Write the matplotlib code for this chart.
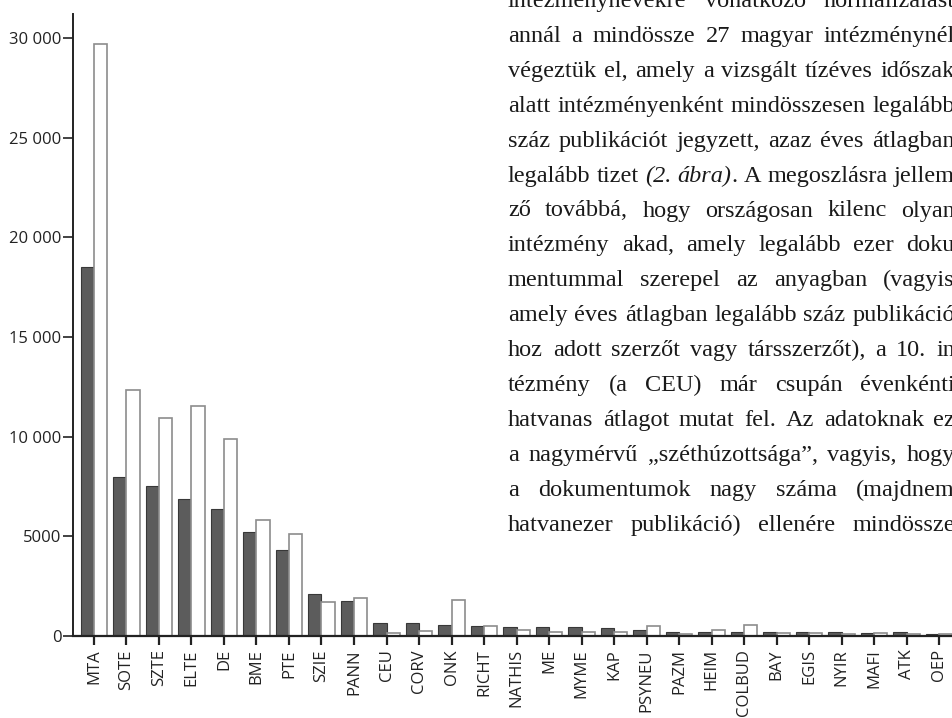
import numpy as np
import matplotlib
matplotlib.use("Agg")
import matplotlib.pyplot as plt

# intézmények rövidítései (x tengely)
intezmenyek = ["MTA", "SOTE", "SZTE", "ELTE", "DE", "BME", "PTE", "SZIE", "PANN",
               "CEU", "CORV", "ONK", "RICHT", "NATHIS", "ME", "MYME", "KAP",
               "PSYNEU", "PAZM", "HEIM", "COLBUD", "BAY", "EGIS", "NYIR",
               "MAFI", "ATK", "OEP"]

# sötét oszlopok
sotet = [18500, 7980, 7550, 6880, 6380, 5220, 4340, 2090, 1760,
         670, 650, 540, 500, 450, 435, 435, 420,
         320, 200, 200, 200, 185, 185, 185,
         170, 185, 115]

# fehér oszlopok
feher = [29700, 12350, 10930, 11530, 9890, 5810, 5140, 1720, 1925,
         165, 235, 1790, 500, 285, 185, 185, 200,
         485, 100, 285, 570, 135, 135, 100,
         135, 100, 80]

y_tickek = [0, 5000, 10000, 15000, 20000, 25000, 30000]
y_feliratok = ["0", "5000", "10 000", "15 000", "20 000", "25 000", "30 000"]

# a jobb felső sarokban levő szöveg sorai (sorkizárt), |...| = dőlt
szoveg_sorok = [
    "intézménynevekre vonatkozó normalizálást",
    "annál a mindössze 27 magyar intézménynél",
    "végeztük el, amely a vizsgált tízéves időszak",
    "alatt intézményenként mindösszesen legalább",
    "száz publikációt jegyzett, azaz éves átlagban",
    "legalább tizet |(2. ábra)|. A megoszlásra jellem",
    "ző továbbá, hogy országosan kilenc olyan",
    "intézmény akad, amely legalább ezer doku",
    "mentummal szerepel az anyagban (vagyis",
    "amely éves átlagban legalább száz publikáció",
    "hoz adott szerzőt vagy társszerzőt), a 10. in",
    "tézmény (a CEU) már csupán évenkénti",
    "hatvanas átlagot mutat fel. Az adatoknak ez",
    "a nagymérvű „széthúzottsága”, vagyis, hogy",
    "a dokumentumok nagy száma (majdnem",
    "hatvanezer publikáció) ellenére mindössze",
]

W, H = 953, 718
fig = plt.figure(figsize=(W / 100, H / 100), dpi=100)
ax = fig.add_axes([72.7 / W, 82 / H, 1 - 72.7 / W, (636 - 14.3) / H])

x = np.arange(len(intezmenyek))
szel = 0.41
ax.bar(x - szel / 2, sotet, width=szel, color="#5c5c5c", edgecolor="#383838", linewidth=0.8, zorder=2)
ax.bar(x + szel / 2, feher, width=szel, color="white", edgecolor="#8c8c8c", linewidth=1.2, zorder=2)

ax.set_xlim(-0.655, 26.43)
ax.set_ylim(0, 31200)

for s in ["top", "right"]:
    ax.spines[s].set_visible(False)
ax.spines["left"].set_linewidth(1.4)
ax.spines["left"].set_color("#222222")
ax.spines["bottom"].set_linewidth(1.6)
ax.spines["bottom"].set_color("#222222")

ax.set_yticks(y_tickek)
ax.set_yticklabels(y_feliratok, fontsize=12, family="Open Sans", color="#222222")
ax.tick_params(axis="y", length=7, width=1.2, pad=1, colors="#222222")

ax.set_xticks(x)
ax.set_xticklabels(intezmenyek, rotation=90, fontsize=12, family="Open Sans", color="#222222")
ax.tick_params(axis="x", length=6.5, width=1.6, pad=3, colors="#222222")

# szöveg sorkizárva, szavanként elhelyezve
renderer = fig.canvas.get_renderer()
bal, jobb = 508, 955
for i, sor in enumerate(szoveg_sorok):
    alap = 42 + (i - 1) * 34.9
    darabok = sor.split("|")
    szavak = []
    for j, d in enumerate(darabok):
        for sz in d.split():
            szavak.append((sz, "italic" if j % 2 == 1 else "normal"))
    # az írásjel ne kerüljön külön szóként
    osszevont = []
    for sz, st in szavak:
        if osszevont and sz in [".", ","]:
            osszevont[-1].append((sz, st))
        else:
            osszevont.append([(sz, st)])
    elemek = []
    for csoport in osszevont:
        tlist = []
        for sz, st in csoport:
            t = fig.text(0, (H - alap) / H, sz, fontsize=17.5, family="Liberation Serif",
                         style=st, color="#1a1a1a", va="baseline", ha="left")
            tlist.append(t)
        elemek.append(tlist)
    szelessegek = []
    for tlist in elemek:
        szelessegek.append([t.get_window_extent(renderer).width for t in tlist])
    ossz = sum(sum(w) for w in szelessegek)
    res = max((jobb - bal - ossz) / (len(elemek) - 1), 4.5)
    xp = bal
    for tlist, ws in zip(elemek, szelessegek):
        for t, w in zip(tlist, ws):
            t.set_x(xp / W)
            xp += w
        xp += res

fig.savefig("out.png", dpi=100)
print("kész")
